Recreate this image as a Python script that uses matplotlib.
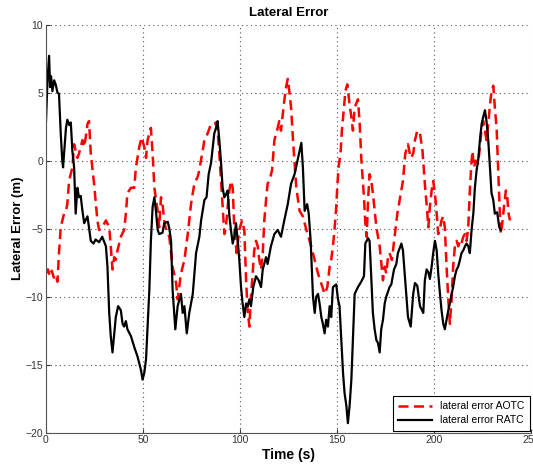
import matplotlib
matplotlib.use("Agg")
import matplotlib.pyplot as plt

# lateral error AOTC (red dashed)
t_aotc = [0.0, 1.0, 2.0, 3.0, 4.0, 5.0, 5.9, 6.7, 7.6, 9.3, 10.3, 11.0, 11.9, 13.6, 14.5, 15.3,
          16.2, 17.0, 18.8, 19.7, 20.5, 21.4, 22.2, 23.1, 24.8, 26.5, 27.4, 29.0, 30.9, 32.6,
          33.4, 34.3, 35.2, 36.0, 36.9, 38.6, 40.3, 41.2, 42.0, 43.8, 45.5, 46.4, 48.1, 49.3,
          50.7, 51.6, 52.4, 54.1, 55.0, 55.9, 57.6, 58.4, 59.3, 60.1, 61.0, 61.9, 63.6, 65.3,
          67.1, 67.9, 69.6, 71.4, 73.1, 74.8, 76.5, 78.2, 79.1, 79.9, 80.8, 81.7, 83.4, 85.1,
          86.8, 87.7, 88.5, 89.4, 90.3, 91.1, 92.0, 92.8, 93.7, 94.6, 95.4, 96.3, 97.1, 98.3,
          99.7, 101.1, 102.3, 103.2, 104.0, 104.9, 105.7, 106.6, 107.4, 108.3, 109.2, 110.0,
          110.9, 111.8, 112.6, 113.5, 114.3, 115.2, 116.6, 117.8, 119.5, 120.3, 121.2, 122.1,
          122.9, 123.8, 124.7, 125.5, 126.4, 127.4, 129.1, 130.8, 132.5, 134.3, 136.8, 140.3,
          143.7, 145.1, 146.3, 147.1, 148.0, 148.9, 149.7, 150.2, 150.9, 152.0, 152.6, 153.7,
          154.4, 155.4, 156.6, 157.5, 158.3, 159.2, 160.9, 161.8, 162.6, 164.0, 164.7, 165.4,
          166.1, 166.9, 167.8, 168.6, 170.4, 172.1, 173.8, 174.7, 175.5, 176.4, 177.2, 178.4,
          179.8, 181.2, 182.4, 184.1, 185.3, 186.7, 188.1, 189.4, 190.3, 191.5, 192.9, 194.2,
          195.4, 196.3, 197.2, 198.0, 198.9, 199.7, 200.6, 201.5, 202.3, 203.2, 204.0, 204.9,
          205.7, 206.6, 207.5, 208.3, 209.2, 210.0, 210.9, 211.8, 212.6, 213.5, 214.3, 215.2,
          216.1, 216.9, 217.8, 218.6, 219.5, 220.0, 220.7, 221.7, 222.9, 223.8, 224.7, 225.5,
          226.4, 227.2, 228.1, 229.0, 229.8, 230.7, 231.5, 232.4, 233.3, 234.1, 234.6, 235.5,
          236.2, 237.2, 237.9, 238.6, 239.3]
e_aotc = [-8.3, -8.0, -8.5, -8.1, -8.6, -8.4, -8.9, -6.8, -4.9, -3.9, -3.7, -3.2, -1.5, -0.5, 1.2, 0.7,
          0.2, 0.5, 1.5, 1.0, 1.7, 2.7, 2.9, 0.5, -1.7, -4.4, -5.1, -4.9, -4.4, -4.9,
          -6.3, -8.0, -7.1, -7.3, -6.6, -5.6, -5.1, -3.9, -2.4, -2.0, -2.0, -0.5, 1.0, 1.7,
          1.0, 0.2, 1.5, 2.4, 0.5, -2.0, -3.7, -4.9, -2.7, -3.2, -4.4, -5.1, -5.6, -7.8,
          -9.0, -10.2, -8.3, -7.3, -5.4, -3.2, -1.7, -1.2, -0.7, 0.0, 0.7, 1.5, 2.0, 2.7,
          2.7, 2.8, 2.2, 0.5, -1.5, -3.4, -5.4, -4.9, -3.4, -2.2, -1.5, -2.0, -4.9, -6.8,
          -5.1, -4.4, -5.1, -8.8, -11.0, -12.2, -10.0, -8.3, -6.6, -5.9, -6.3, -7.3,
          -8.0, -6.8, -4.4, -2.9, -1.7, -1.5, -0.7, 1.5, 2.4, 2.9, 2.2, 3.4,
          4.4, 5.4, 6.0, 5.1, 3.9, 1.5, -2.0, -3.7, -4.1, -5.1, -6.3, -8.3,
          -9.8, -9.3, -7.8, -7.3, -6.3, -4.9, -3.4, -2.0, -0.5, 0.7, 2.2, 3.9,
          5.1, 5.6, 4.1, 3.2, 2.2, 3.9, 4.5, 2.7, 0.2, -2.7, -4.6, -5.6,
          -2.9, -1.0, -1.5, -2.4, -4.9, -6.3, -8.8, -7.8, -8.3, -7.1, -6.8, -7.3,
          -5.6, -3.9, -2.9, -1.5, 0.5, 1.2, 0.2, 0.5, 1.5, 2.2, 2.0, 0.7,
          -1.7, -3.2, -4.9, -3.4, -2.2, -1.5, -2.4, -3.9, -5.4, -5.0, -4.4, -4.1,
          -4.9, -7.8, -10.2, -12.0, -10.2, -7.8, -6.3, -5.9, -6.3, -5.9, -6.1, -5.6,
          -5.4, -5.9, -4.9, -2.2, 0.0, 0.7, -0.5, 0.0, -0.2, 1.0, 2.4, 2.9,
          2.2, 1.5, 2.7, 4.1, 5.1, 5.5, 3.9, 2.4, -1.0, -3.9, -5.4, -4.4,
          -3.4, -2.2, -2.7, -3.9, -4.4]

# lateral error RATC (black solid)
t_ratc = [0.0, 0.8, 1.6, 2.1, 2.6, 3.3, 4.2, 5.0, 5.9, 6.7, 7.6, 8.4, 8.8, 9.6, 10.3, 11.0,
          12.0, 12.8, 13.6, 14.5, 15.3, 16.2, 17.0, 17.9, 18.8, 19.7, 21.4, 23.1, 24.5, 25.6,
          27.4, 29.0, 29.8, 30.9, 31.7, 32.6, 33.4, 34.3, 35.2, 36.0, 37.2, 38.6, 39.5, 40.3,
          41.2, 42.0, 43.8, 45.5, 47.2, 49.0, 49.8, 50.7, 51.6, 53.3, 54.1, 55.0, 55.9, 56.7,
          57.6, 58.4, 60.1, 61.0, 62.8, 63.6, 64.5, 65.3, 66.7, 67.9, 69.6, 70.5, 71.4, 72.6,
          73.9, 75.7, 77.4, 79.1, 80.0, 81.7, 82.8, 83.9, 85.1, 86.0, 86.8, 87.7, 88.5, 89.4,
          90.3, 91.1, 92.0, 92.8, 93.7, 94.6, 95.4, 96.3, 97.1, 98.0, 98.9, 99.7, 100.6, 101.4,
          102.3, 103.2, 104.0, 104.9, 105.7, 106.9, 108.3, 109.7, 110.9, 111.8, 113.5, 114.3,
          116.0, 117.8, 119.5, 121.2, 122.9, 124.7, 126.4, 128.2, 131.7, 132.5, 133.4, 134.7,
          135.5, 136.5, 137.7, 138.6, 139.4, 140.3, 141.1, 142.0, 142.8, 143.7, 144.5, 145.4,
          146.3, 147.1, 148.0, 149.7, 150.6, 151.4, 152.3, 153.2, 154.0, 154.9, 155.7, 156.6,
          157.5, 158.3, 159.2, 160.9, 162.6, 164.0, 164.7, 166.1, 166.9, 167.8, 168.6, 169.5,
          170.4, 171.2, 172.1, 172.9, 173.8, 174.7, 175.5, 177.2, 178.1, 179.5, 180.7, 181.5,
          183.3, 184.1, 185.0, 185.8, 186.7, 188.1, 189.4, 190.3, 191.5, 192.9, 194.6, 195.4,
          196.3, 197.2, 198.0, 198.9, 199.7, 200.6, 201.5, 202.3, 203.2, 204.0, 204.9, 205.7,
          206.6, 207.5, 208.3, 209.2, 210.0, 210.9, 211.8, 212.6, 213.5, 214.3, 215.2, 216.1,
          216.9, 217.8, 218.6, 219.5, 220.4, 221.2, 222.1, 222.9, 223.8, 224.7, 225.5, 226.4,
          227.2, 228.1, 229.0, 229.8, 230.7, 231.5, 232.7, 233.8, 234.5]
e_ratc = [2.9, 6.0, 7.7, 5.4, 6.2, 5.1, 5.9, 5.6, 5.0, 4.9, 2.0, 0.0, -0.5, 1.0, 2.4, 3.0,
          2.6, 2.8, 0.7, -0.5, -3.9, -2.0, -2.7, -2.6, -3.7, -4.6, -4.1, -5.9, -6.1, -5.8,
          -6.0, -5.6, -5.9, -6.3, -7.8, -11.2, -12.9, -14.1, -12.7, -11.5, -10.7, -11.0, -12.0, -12.2,
          -11.8, -12.4, -12.9, -13.7, -14.4, -15.4, -16.1, -15.6, -14.6, -9.5, -5.9, -3.4, -2.7, -3.7,
          -5.1, -5.4, -5.3, -4.6, -4.5, -5.0, -5.9, -9.5, -12.4, -10.7, -9.8, -11.2, -10.7, -12.7,
          -11.2, -9.8, -6.8, -5.6, -4.4, -2.9, -2.7, -1.0, -0.2, 1.0, 2.0, 2.4, 2.9, 1.5,
          -0.2, -2.0, -2.7, -2.5, -2.2, -4.1, -5.1, -6.1, -5.6, -4.6, -5.9, -7.3, -9.3, -10.5,
          -11.5, -10.5, -10.7, -10.2, -10.7, -9.3, -8.5, -8.8, -9.3, -8.0, -7.1, -7.6,
          -6.3, -5.4, -5.1, -5.6, -4.4, -3.2, -1.7, -1.0, 1.3, -0.5, -3.7, -3.2,
          -3.9, -5.9, -10.0, -11.2, -10.0, -9.8, -10.5, -11.5, -12.0, -12.7, -11.7, -12.2,
          -10.7, -11.5, -9.3, -9.1, -10.2, -10.7, -13.2, -15.6, -17.1, -18.0, -19.3, -18.0,
          -16.1, -13.2, -9.8, -9.3, -8.9, -8.5, -6.1, -5.7, -5.9, -8.8, -11.2, -12.4,
          -13.2, -13.4, -14.1, -12.4, -11.7, -10.5, -10.0, -9.3, -9.1, -8.0, -7.6, -6.8,
          -6.1, -6.6, -8.3, -9.8, -11.5, -12.2, -9.8, -9.0, -9.2, -10.7, -11.2, -8.8,
          -8.0, -8.2, -8.7, -7.8, -6.8, -5.9, -6.6, -8.3, -9.8, -11.0, -12.0, -12.4,
          -11.7, -11.0, -10.5, -9.8, -9.3, -8.5, -8.0, -7.8, -7.3, -6.8, -6.6, -6.3,
          -6.1, -6.3, -6.8, -5.1, -3.9, -2.0, -0.7, 0.0, 1.5, 2.7, 3.2, 3.7,
          2.9, 1.5, -0.5, -2.4, -2.9, -3.9, -3.8, -4.9, -5.1]

x_ticks = [0, 50, 100, 150, 200, 250]
y_ticks = [-20, -15, -10, -5, 0, 5, 10]

plt.rcParams["font.family"] = ["Liberation Sans", "DejaVu Sans"]

fig = plt.figure(figsize=(5.33, 4.66), dpi=100)
ax = fig.add_axes([0.0863, 0.0715, 0.9094, 0.8759])

ax.plot(t_aotc, e_aotc, color="red", linestyle="--", linewidth=1.8, dashes=(4, 2.2),
        label="lateral error AOTC")
ax.plot(t_ratc, e_ratc, color="black", linestyle="-", linewidth=1.6,
        label="lateral error RATC")

ax.set_xlim(0, 250)
ax.set_ylim(-20, 10)
ax.set_xticks(x_ticks)
ax.set_yticks(y_ticks)
ax.tick_params(direction="in", length=3, labelsize=7.5, colors="#333333", pad=2)

ax.grid(True, linestyle=(0, (1, 3)), color="#555555", linewidth=0.8)
ax.spines["top"].set_visible(False)
ax.spines["right"].set_visible(False)
for s in ["left", "bottom"]:
    ax.spines[s].set_color("#555555")

ax.set_title("Lateral Error", fontsize=9.5, fontweight="bold", pad=6)
ax.set_xlabel("Time (s)", fontsize=10, fontweight="bold", labelpad=2)
ax.set_ylabel("Lateral Error (m)", fontsize=9.5, fontweight="bold", labelpad=1)

leg = ax.legend(loc="lower right", bbox_to_anchor=(0.998, 0.005), fontsize=7.5,
                fancybox=False, framealpha=1, edgecolor="black", borderaxespad=0,
                handlelength=3.2, borderpad=0.5, labelspacing=0.4)
leg.get_frame().set_linewidth(0.8)

fig.savefig("out.png", dpi=100)
